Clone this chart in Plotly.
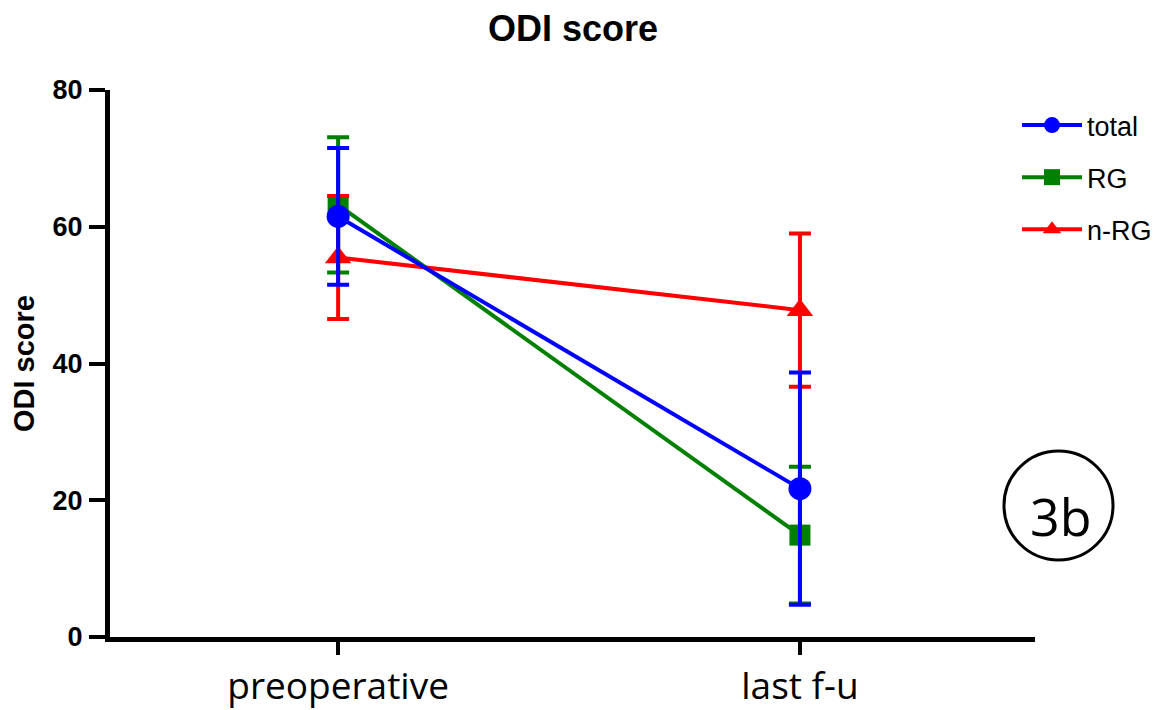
import plotly.graph_objects as go

categories = ["preoperative", "last f-u"]
series_names = ["total", "RG", "n-RG"]
total_mean = [61.5, 21.7]
total_err = [10.0, 17.0]
rg_mean = [63.2, 14.9]
rg_err = [9.9, 10.0]
nrg_mean = [55.5, 47.8]
nrg_err = [9.0, 11.2]
y_ticks = [0, 20, 40, 60, 80]

colors = ["#0000FF", "#008000", "#FF0000"]
symbols = ["circle", "square", "triangle-up"]
sizes = [23, 21, 23]

# the page body has an 8px margin; figure coordinates = viewport - 8
W, H = 1149, 702
L, R, T, B = 102, 122, 82, 73


def px(xv):
    return (xv - 110) / 925


def py(yv):
    return (637 - yv) / 547


fig = go.Figure()
order = [1, 2, 0]
means = [total_mean, rg_mean, nrg_mean]
errs = [total_err, rg_err, nrg_err]
for i in order:
    fig.add_trace(go.Scatter(
        x=categories, y=means[i], name=series_names[i],
        mode="lines+markers",
        line=dict(color=colors[i], width=4),
        marker=dict(symbol=symbols[i], size=sizes[i], color=colors[i]),
        error_y=dict(type="data", array=errs[i], visible=True,
                     color=colors[i], thickness=4, width=11),
        legendgroup=series_names[i], legendrank=i + 1,
    ))

fig.update_layout(
    width=W, height=H,
    margin=dict(l=L, r=R, t=T, b=B, autoexpand=False),
    plot_bgcolor="white", paper_bgcolor="white",
    title=dict(text="<b>ODI score</b>", x=(573 - 8) / W, xanchor="center",
               y=1 - (28 - 8) / H, yanchor="middle",
               font=dict(family="Liberation Sans, Arial", size=36, color="black")),
    showlegend=True,
    legend=dict(x=px(1017), xanchor="left", y=py(101), yanchor="top",
                tracegroupgap=14,
                font=dict(family="Liberation Sans, Arial", size=27, color="black"),
                bgcolor="rgba(0,0,0,0)", itemwidth=60),
)
fig.update_xaxes(
    type="category", range=[-0.494, 1.509],
    showline=True, linecolor="black", linewidth=5,
    ticks="outside", ticklen=13, tickwidth=4, tickcolor="black",
    showgrid=False, zeroline=False,
    tickfont=dict(family="Open Sans, Noto Sans", size=37, color="black"),
)
fig.update_yaxes(
    range=[0, 80], tickvals=y_ticks,
    showline=True, linecolor="black", linewidth=5,
    ticks="outside", ticklen=16, tickwidth=4, tickcolor="black",
    showgrid=False, zeroline=False,
    tickfont=dict(family="Liberation Sans, Arial", size=27, color="black", weight="bold"),
    ticklabelstandoff=1,
    title=dict(text="<b>ODI score</b>", standoff=12,
               font=dict(family="Liberation Sans, Arial", size=29, color="black")),
)
fig.add_shape(type="circle", xref="paper", yref="paper",
              x0=px(1004), x1=px(1113),
              y0=py(560), y1=py(451),
              line=dict(color="black", width=3))
fig.add_annotation(text="3b", xref="paper", yref="paper",
                   x=px(1061), y=py(515),
                   showarrow=False, xanchor="center", yanchor="middle",
                   font=dict(family="Open Sans, Noto Sans", size=52, color="black"))

fig.write_html("out.html")
